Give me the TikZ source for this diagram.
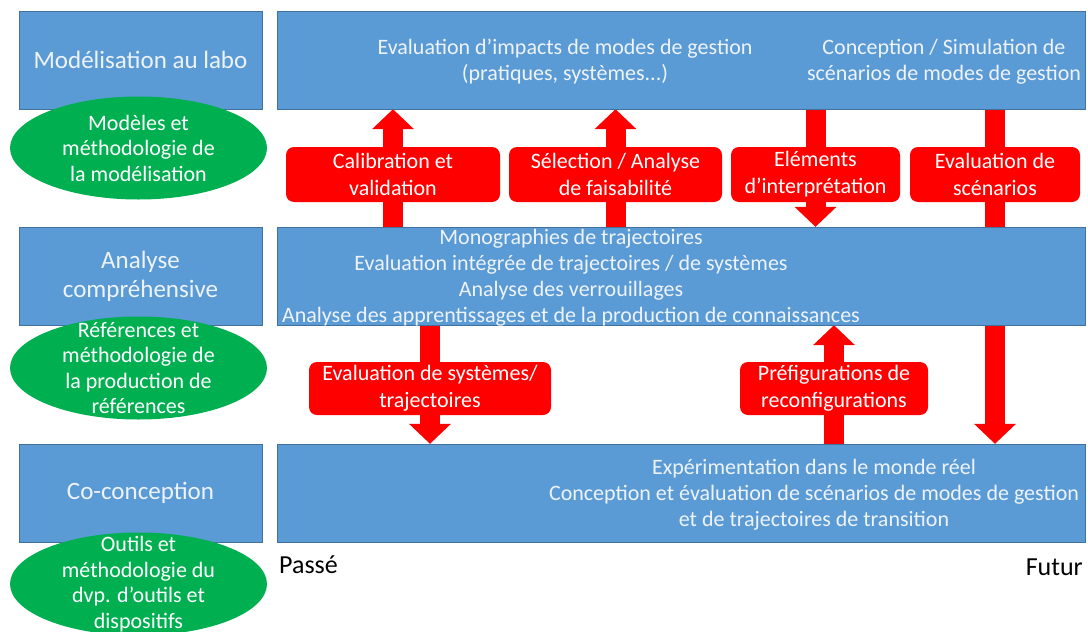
\documentclass[tikz,border=0pt]{standalone}
\usepackage{fontspec}
\setmainfont{Carlito}
\usetikzlibrary{positioning}
\usetikzlibrary{shapes.geometric}
\usetikzlibrary{arrows.meta}
\definecolor{laneblue}{HTML}{5B9BD5}
\definecolor{laneedge}{HTML}{41719C}
\definecolor{methodgreen}{HTML}{00B050}
\definecolor{flowred}{HTML}{FF0000}
\definecolor{lanetext}{HTML}{EEF3FA}
\tikzset{
    % Blue band for one level of work
    lane box/.style={draw=laneedge, fill=laneblue, inner sep=0,
        minimum height=98pt},
%
    % Title of a level, on the left
    row label/.style={lane box, minimum width=243pt, text=lanetext,
        align=center, font=\fontsize{25}{29}\selectfont},
%
    % Wide band to the right of the title
    row band/.style={lane box, minimum width=808pt},
%
    % Text written on a band
    band text/.style={text=lanetext, align=center, inner sep=0,
        font=\fontsize{22}{26}\selectfont},
%
    % Green ellipse for the methods of a level
    method ellipse/.style={ellipse, fill=methodgreen, inner sep=0,
        minimum width=257pt, minimum height=103pt},
    method text/.style={text=white, align=center, inner sep=0,
        font=\fontsize{22}{25.5}\selectfont},
%
    % Red rounded tag sitting on a flow
    flow tag/.style={fill=flowred, rounded corners=8pt, text=white,
        align=center, inner sep=0, minimum height=55pt,
        font=\fontsize{22}{27}\selectfont},
%
    % Thick red block arrow
    flow arrow/.style={draw=flowred, line width=20pt,
        -{Triangle[width=42pt, length=20pt, line width=0pt]}},
%
    % Time axis words
    time label/.style={inner sep=0, font=\fontsize{26}{30}\selectfont}}
\pgfdeclarelayer{background}
\pgfsetlayers{background,main}

\begin{document}
\begin{tikzpicture}[x=1pt, y=-1pt]

\useasboundingbox (0,0) rectangle (1088,632);
\clip (0,0) rectangle (1088,632);

% Levels of work

\node [row label] (labo) at (140.5,60) {Modélisation au labo};
\node [row band, right=15pt of labo] (laboband) {};

\node [row label] (analyse) at (140.5,276) {Analyse\\compréhensive};
\node [row band, right=15pt of analyse] (analyseband) {};

\node [row label] (cocon) at (140.5,493) {Co-conception};
\node [row band, right=15pt of cocon] (coconband) {};

\node [band text] (impacts) at (565,62)
    {Evaluation d’impacts de modes de gestion\\(pratiques, systèmes...)};
\node [band text] (simul) at (944,62)
    {Conception / Simulation de\\scénarios de modes de gestion};

\node [band text] (monos) at (571,277.5)
    {Monographies de trajectoires\\
     Evaluation intégrée de trajectoires / de systèmes\\
     Analyse des verrouillages\\
     Analyse des apprentissages et de la production de connaissances};

\node [band text] (experim) at (814,495)
    {Expérimentation dans le monde réel\\
     Conception et évaluation de scénarios de modes de gestion\\
     et de trajectoires de transition};

% Methods of each level

\node [method ellipse,
    label={[method text]center:{Modèles et\\méthodologie de\\la modélisation}}]
    (modeles) at (138.5,148) {};
\node [method ellipse,
    label={[method text]center:{Références et\\méthodologie de\\la production de\\références}}]
    (references) at (138.5,368) {};
\node [method ellipse,
    label={[method text]center:{Outils et\\méthodologie du\\dvp. d’outils et\\dispositifs}}]
    (outils) at (138.5,584) {};

% Flows between levels

\node [flow tag, minimum width=214pt] (calib) at (393,174.5)
    {Calibration et\\validation};
\node [flow tag, minimum width=213pt] (selection) at (615.5,174.5)
    {Sélection / Analyse\\de faisabilité};
\node [flow tag, minimum width=169pt] (elements) at (815.5,174.5)
    {Eléments\\d’interprétation};
\node [flow tag, minimum width=170pt] (evalscen) at (995,174.5)
    {Evaluation de\\scénarios};

\node [flow tag, minimum width=242pt, minimum height=53pt] (evalsys)
    at (430,388.5) {Evaluation de systèmes/\\trajectoires};
\node [flow tag, minimum width=188pt, minimum height=53pt] (prefig)
    at (834,388.5) {Préfigurations de\\reconfigurations};

\node [time label, anchor=west] (passe) at (279,565) {Passé};
\node [time label, anchor=east] (futur) at (1083,567) {Futur};

\begin{pgfonlayer}{background}
\draw [flow arrow] (calib |- analyseband.north) -- (calib |- laboband.south);
\draw [flow arrow] (selection |- analyseband.north) -- (selection |- laboband.south);
\draw [flow arrow] (elements |- laboband.south) -- (elements |- analyseband.north);
\draw [flow arrow] (evalscen |- laboband.south) -- (evalscen |- coconband.north);
\draw [flow arrow] (evalsys |- analyseband.south) -- (evalsys |- coconband.north);
\draw [flow arrow] (prefig |- coconband.north) -- (prefig |- analyseband.south);
\end{pgfonlayer}

\end{tikzpicture}
\end{document}
